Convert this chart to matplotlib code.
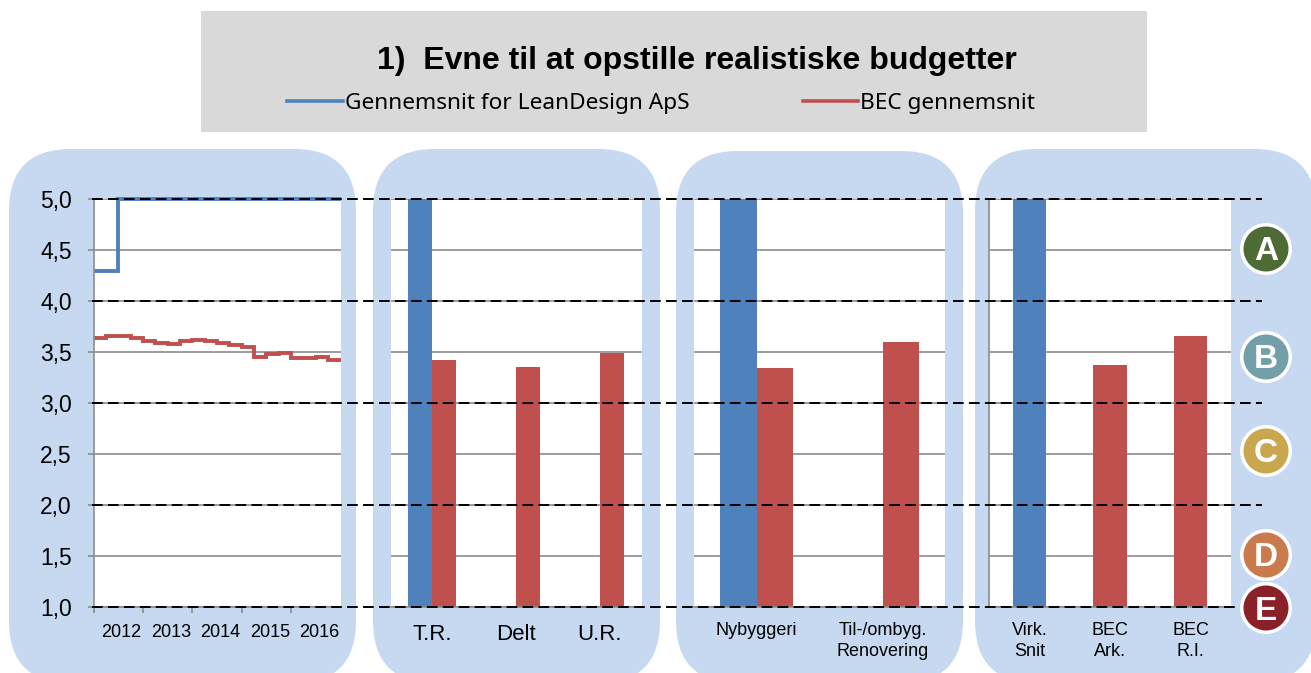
import matplotlib
matplotlib.use('Agg')
import matplotlib.pyplot as plt
from matplotlib.lines import Line2D
from matplotlib.patches import Circle, FancyBboxPatch, Rectangle
from matplotlib.transforms import blended_transform_factory

W, H = 1311, 673
plt.rcParams['font.family'] = ['Liberation Sans', 'DejaVu Sans']

BLUE = '#4f81bd'
RED = '#c0504d'
PANEL = '#c6d9f1'
GRID = '#8c8c8c'

# ---- data ----
title = '1)  Evne til at opstille realistiske budgetter'
legend_labels = ['Gennemsnit for LeanDesign ApS', 'BEC gennemsnit']

years = [2012, 2013, 2014, 2015, 2016]
# quarterly values, 20 quarters
line_blue = [4.29, 4.29] + [5.0] * 18
line_red = [3.635, 3.66, 3.66, 3.64, 3.605, 3.59, 3.58, 3.605, 3.615, 3.61,
            3.59, 3.565, 3.545, 3.45, 3.48, 3.49, 3.445, 3.44, 3.45, 3.42]

cats_2 = ['T.R.', 'Delt', 'U.R.']
blue_2 = [5.0, None, None]
red_2 = [3.42, 3.35, 3.49]

cats_3 = ['Nybyggeri', 'Til-/ombyg.\nRenovering']
blue_3 = [5.0, None]
red_3 = [3.34, 3.60]

cats_4 = ['Virk.\nSnit', 'BEC\nArk.', 'BEC\nR.I.']
vals_4 = [5.0, 3.37, 3.66]
cols_4 = [BLUE, RED, RED]

y_ticks = [1.0, 1.5, 2.0, 2.5, 3.0, 3.5, 4.0, 4.5, 5.0]
levels = [5.0, 4.0, 3.0, 2.0]
grades = ['A', 'B', 'C', 'D', 'E']
grade_cols = ['#4f6b35', '#739fa8', '#c9a74e', '#c97b4e', '#8b2128']
grade_y = [249, 357, 451, 555, 608]

fig = plt.figure(figsize=(W / 100, H / 100), dpi=100, facecolor='white')


def px_axes(x0, x1, y0, y1):
    return fig.add_axes([x0 / W, 1 - y1 / H, (x1 - x0) / W, (y1 - y0) / H])


# ---- background panels and title box ----
bg = fig.add_axes([0, 0, 1, 1], zorder=0)
bg.set_xlim(0, W)
bg.set_ylim(H, 0)
bg.axis('off')
bg.add_patch(Rectangle((201, 11), 946, 121, color='#d9d9d9', lw=0))
for x0, x1, top in [(9, 356, 149), (373, 660, 149), (676, 963, 151), (975, 1316, 149)]:
    bg.add_patch(FancyBboxPatch((x0, top), x1 - x0, 683 - top, lw=0, color=PANEL,
                                boxstyle='round,pad=0,rounding_size=62'))
bg.text(697, 61, title, ha='center', va='center', fontsize=23, fontweight='bold')
bg.plot([287, 343], [101, 101], color=BLUE, lw=2.6)
bg.plot([803, 858], [101, 101], color=RED, lw=2.6)
bg.text(345, 103, legend_labels[0], ha='left', va='center', fontsize=16.3, family=['Noto Sans'])
bg.text(860, 103, legend_labels[1], ha='left', va='center', fontsize=16.3, family=['Noto Sans'])


def style(ax, left=False):
    ax.set_ylim(1, 5)
    ax.set_yticks(y_ticks)
    ax.set_axisbelow(True)
    ax.grid(axis='y', color=GRID, lw=1.2)
    for s in ['top', 'right']:
        ax.spines[s].set_visible(False)
    ax.spines['left'].set_visible(left)
    ax.spines['left'].set_color(GRID)
    ax.spines['bottom'].set_color(GRID)
    ax.spines['left'].set_linewidth(1.2)
    ax.spines['bottom'].set_linewidth(1.2)
    ax.tick_params(axis='x', length=0)
    ax.tick_params(axis='y', length=0, labelleft=False)


# ---- panel 1: step lines ----
ax1 = px_axes(93.5, 340.5, 199, 607)
style(ax1, left=True)
edges = [years[0] + i / 4 for i in range(len(line_red) + 1)]
ax1.stairs(line_blue, edges, baseline=None, color=BLUE, lw=2.8, clip_on=False)
ax1.stairs(line_red, edges, baseline=None, color=RED, lw=2.8, clip_on=False)
ax1.set_xlim(years[0], years[-1] + 1)
ax1.set_xticks(years)
ax1.set_xticklabels([])
ax1.tick_params(axis='x', length=4, color=GRID, width=1.2)
ax1.tick_params(axis='y', length=4.5, color=GRID, width=1.2, labelleft=True, labelsize=16.5, pad=11)
ax1.set_yticklabels([f'{v:.1f}'.replace('.', ',') for v in y_ticks])
for yr in years:
    ax1.text(yr + 0.57, -0.063, str(yr), transform=ax1.get_xaxis_transform(),
             ha='center', va='center', fontsize=13)

# ---- panel 2 ----
ax2 = px_axes(390.5, 641.5, 199, 607)
style(ax2)
w2 = 0.287
for i in range(len(cats_2)):
    if blue_2[i] is not None:
        ax2.bar(i - w2 / 2, blue_2[i] - 1, w2, bottom=1, color=BLUE)
    ax2.bar(i + w2 / 2, red_2[i] - 1, w2, bottom=1, color=RED)
ax2.set_xlim(-0.5, 2.5)
ax2.set_xticks(range(len(cats_2)))
ax2.set_xticklabels(cats_2, fontsize=16)
ax2.tick_params(axis='x', pad=12)

# ---- panel 3 ----
ax3 = px_axes(693.5, 945.5, 199, 607)
style(ax3)
w3 = 0.286
for i in range(len(cats_3)):
    if blue_3[i] is not None:
        ax3.bar(i - w3 / 2, blue_3[i] - 1, w3, bottom=1, color=BLUE)
    ax3.bar(i + w3 / 2, red_3[i] - 1, w3, bottom=1, color=RED)
ax3.set_xlim(-0.5, 1.5)
ax3.set_xticks(range(len(cats_3)))
ax3.set_xticklabels(cats_3, fontsize=13, linespacing=1.32)
ax3.tick_params(axis='x', pad=10.5)

# ---- panel 4 ----
ax4 = px_axes(989, 1231, 199, 607)
style(ax4, left=True)
ax4.bar(range(len(cats_4)), [v - 1 for v in vals_4], 0.41, bottom=1, color=cols_4)
ax4.set_xlim(-0.5, 2.5)
ax4.set_xticks(range(len(cats_4)))
ax4.set_xticklabels(cats_4, fontsize=13, linespacing=1.32)
ax4.tick_params(axis='x', pad=10.5)

# ---- dashed grade limits across all panels ----
tr = blended_transform_factory(fig.transFigure, ax1.transData)
for lev in levels + [1.0]:
    end = 1262 if lev > 1 else 1238
    fig.add_artist(Line2D([92 / W, end / W], [lev, lev], transform=tr, color='black',
                          lw=1.4, dashes=(5.5, 2.7), zorder=5))

# ---- grade circles ----
top = fig.add_axes([0, 0, 1, 1], zorder=6)
top.set_xlim(0, W)
top.set_ylim(H, 0)
top.axis('off')
for g, c, y in zip(grades, grade_cols, grade_y):
    top.add_patch(Circle((1266, y), 26, color='white', lw=0))
    top.add_patch(Circle((1266, y), 22.5, color=c, lw=0))
    top.text(1266, y + 3, g, color='white', fontsize=24, fontweight='bold', ha='center', va='center')

fig.savefig('out.png', dpi=100)
